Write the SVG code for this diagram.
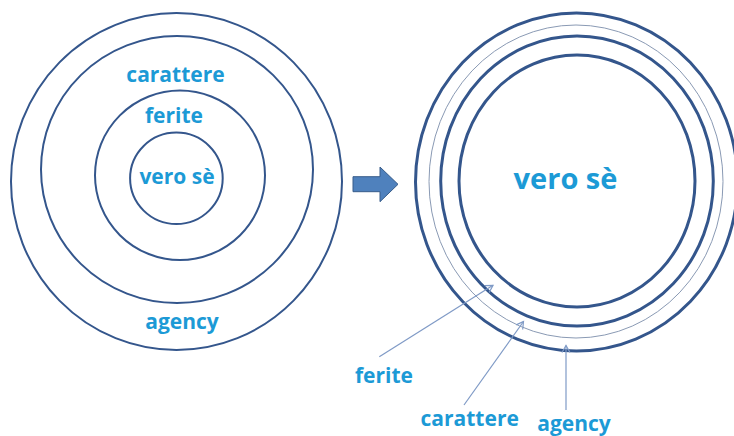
<svg xmlns="http://www.w3.org/2000/svg" width="734" height="436" viewBox="0 0 734 436">
<style>
.ring{fill:none;stroke:#34568c;stroke-width:2}
.thick{fill:none;stroke:#34568c;stroke-width:3}
.thin{fill:none;stroke:#8a9ab4;stroke-width:1}
.lbl{font-family:"Open Sans","Liberation Sans",sans-serif;font-weight:bold;font-size:21px;fill:#1c9ad6;text-anchor:middle}
.big{font-size:29px}
.ann{fill:none;stroke:#7f9ac6;stroke-width:1.2;marker-end:url(#ah)}
</style>
<defs>
<marker id="ah" markerWidth="10" markerHeight="10" refX="8" refY="5" orient="auto" markerUnits="userSpaceOnUse">
<path d="M1,1 L8,5 L1,9" fill="none" stroke="#7f9ac6" stroke-width="1.2"/>
</marker>
</defs>
<rect width="734" height="436" fill="#ffffff"/>
<g id="left-agency">
<ellipse class="ring" cx="176.5" cy="181.5" rx="165.5" ry="168.5"/>
<text class="lbl" x="182" y="329">agency</text>
</g>
<g id="left-carattere">
<ellipse class="ring" cx="177" cy="169.5" rx="136" ry="133.5"/>
<text class="lbl" x="175.5" y="82">carattere</text>
</g>
<g id="left-ferite">
<ellipse class="ring" cx="180" cy="175.3" rx="85" ry="84.7"/>
<text class="lbl" x="174" y="123">ferite</text>
</g>
<g id="left-verose">
<ellipse class="ring" cx="176.4" cy="178.3" rx="46.3" ry="45.7"/>
<text class="lbl" x="177" y="184">vero sè</text>
</g>
<g id="arrow">
<path d="M353,176.7 L380,176.7 L380,167 L398,184.3 L380,201.7 L380,191.7 L353,191.7 Z" fill="#4f81bd" stroke="#385d8a" stroke-width="1"/>
</g>
<g id="right-agency">
<ellipse class="thick" cx="576.5" cy="182" rx="161" ry="169"/>
<text class="lbl" x="574" y="431">agency</text>
</g>
<g id="right-carattere">
<ellipse class="thin" cx="576" cy="181.5" rx="147" ry="156.5"/>
<text class="lbl" x="469.7" y="425.5">carattere</text>
</g>
<g id="right-ferite">
<ellipse class="thick" cx="577" cy="181" rx="136.3" ry="145"/>
<text class="lbl" x="384" y="383">ferite</text>
</g>
<g id="right-verose">
<ellipse class="thick" cx="577" cy="181" rx="118" ry="126"/>
<text class="lbl big" x="565.5" y="188.5">vero sè</text>
</g>
<g id="connectors">
<line class="ann" x1="379.3" y1="356.7" x2="493" y2="285.3"/>
<line class="ann" x1="464" y1="405" x2="523.5" y2="321.5"/>
<line class="ann" x1="566" y1="410" x2="566" y2="345.5"/>
</g>
</svg>
